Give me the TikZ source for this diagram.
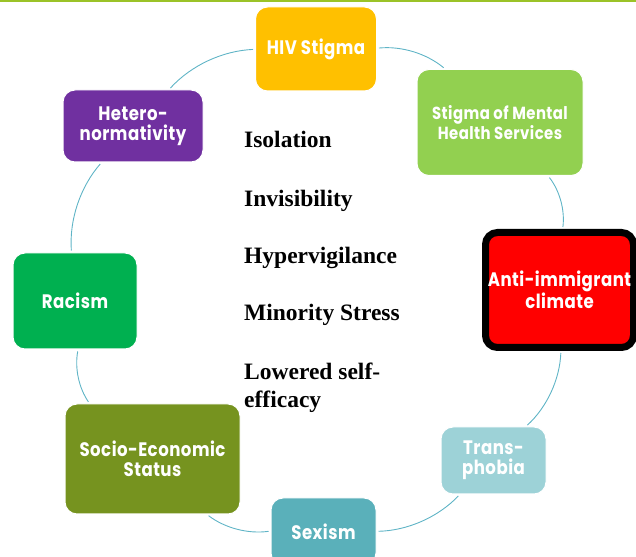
\documentclass[tikz,border=0pt]{standalone}
\usepackage{fontspec}
\setmainfont{Liberation Serif}
\newfontfamily\boxfont[FakeStretch=0.85, LetterSpace=2.5]{Poppins}
\usepackage{tikz}
\usetikzlibrary{positioning}
\definecolor{TopGreen}{RGB}{155,195,40}
\definecolor{RingTeal}{RGB}{95,180,198}
\definecolor{HivGold}{RGB}{255,192,0}
\definecolor{MentalGreen}{RGB}{146,208,80}
\definecolor{ClimateRed}{RGB}{255,0,0}
\definecolor{TransTeal}{RGB}{157,210,215}
\definecolor{SexismTeal}{RGB}{90,176,186}
\definecolor{SesOlive}{RGB}{118,147,31}
\definecolor{RacismGreen}{RGB}{0,176,80}
\definecolor{HeteroPurple}{RGB}{112,48,160}

\begin{document}
\begin{tikzpicture}[x=1pt, y=1pt,
    box/.style={rectangle, rounded corners=12pt, draw=white, line width=1pt, text=white,
        align=center, inner sep=0pt, font=\boxfont\bfseries\fontsize{19.5}{20}\selectfont},
    ring/.style={RingTeal, line width=0.9pt, bend right=22.5, looseness=0.88,
        shorten <=2pt, shorten >=2pt},
    item/.style={anchor=base west, inner sep=0pt, align=left,
        font=\bfseries\fontsize{23.5}{28.5}\selectfont}]
    \useasboundingbox (0,0) rectangle (636,556);
    \fill[TopGreen] (0,554) rectangle (636,556);

    \node[box, fill=HivGold, minimum width=121pt, minimum height=84pt] (hiv) at (316,507) {HIV Stigma};
    \node[box, fill=MentalGreen, minimum width=166pt, minimum height=106pt,
        font=\boxfont\bfseries\fontsize{17.5}{18}\selectfont] (mental) at (500,433.5) {Stigma of Mental\\Health Services};
    \node[box, fill=ClimateRed, draw=black, line width=7pt, minimum width=148pt, minimum height=115pt] (climate) at (559.5,266) {Anti-immigrant\\climate};
    \node[box, fill=TransTeal, minimum width=105pt, minimum height=67pt] (trans) at (493.5,95.5) {Trans-\\phobia};
    \node[box, fill=SexismTeal, minimum width=105pt, minimum height=67pt] (sexism) at (323.5,24.5) {Sexism};
    \node[box, fill=SesOlive, minimum width=175pt, minimum height=110pt] (ses) at (152.5,97) {Socio-Economic\\Status};
    \node[box, fill=RacismGreen, minimum width=124pt, minimum height=96pt] (racism) at (75,255) {Racism};
    \node[box, fill=HeteroPurple, minimum width=140pt, minimum height=72pt] (hetero) at (133,430) {Hetero-\\normativity};

    \draw[ring] (hiv) to (hetero);
    \draw[ring] (hetero) to (racism);
    \draw[ring] (racism) to (ses);
    \draw[ring] (ses) to (sexism);
    \draw[ring] (sexism) to (trans);
    \draw[ring] (trans) to (climate);
    \draw[ring] (climate) to (mental);
    \draw[ring] (mental) to (hiv);

    \foreach \txt/\yy [count=\i] in {Isolation/408.3, Invisibility/349.3, Hypervigilance/292,
        Minority Stress/235, {Lowered self-\\efficacy}/148.2}
        \node[item] (effect\i) at (244,\yy) {\txt};
\end{tikzpicture}
\end{document}
